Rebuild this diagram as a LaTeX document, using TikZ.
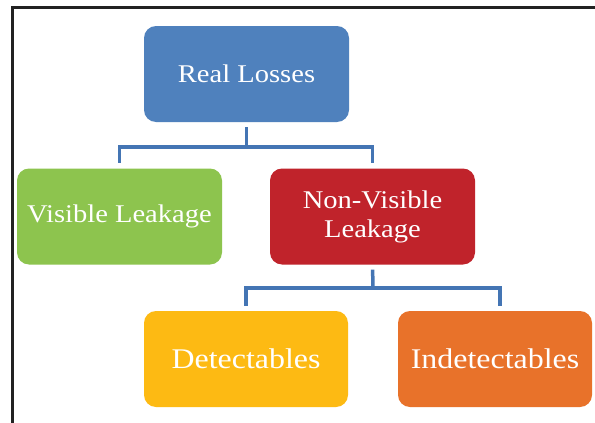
\documentclass[tikz,border=0pt]{standalone}
\usepackage{fontspec}
\setmainfont{Liberation Serif}[FakeStretch=1.12]
\begin{document}
\begin{tikzpicture}[x=1pt,y=-1pt,
  box/.style={rounded corners=12pt, minimum width=205pt, minimum height=96pt,
    inner sep=0pt, text=white, align=center, font=\fontsize{25.5}{29}\selectfont},
  bigbox/.style={box, font=\fontsize{28.5}{32}\selectfont},
  link/.style={draw=linkblue, line width=3.5pt},
  drop/.style={link, shorten <=-1.75pt, shorten >=5pt},
  stem/.style={link, shorten <=5pt, shorten >=-1.75pt}]
  \definecolor{linkblue}{HTML}{4475B4}
  \definecolor{rootblue}{HTML}{4F81BD}
  \definecolor{leafgreen}{HTML}{8DC44E}
  \definecolor{leakred}{HTML}{C0232B}
  \definecolor{detyellow}{HTML}{FDBA13}
  \definecolor{indorange}{HTML}{E8722A}
  \definecolor{framegray}{HTML}{222222}

  % page area
  \useasboundingbox (0,0) rectangle (595,423);
  \fill[white] (0,0) rectangle (595,423);
  \draw[framegray, line width=3pt] (12,423) -- (12,7) -- (595,7);

  % junction points of the two tree levels
  \coordinate (bus1) at (247,147);
  \coordinate (bus2) at (373,288);

  % boxes
  \node[box, fill=rootblue]  (rl) at (246.5,74)  {Real Losses};
  \node[box, fill=leafgreen] (vl) at (119.5,216.5) {Visible Leakage};
  \node[box, fill=leakred]   (nv) at (372.5,216.5) {Non-Visible\\Leakage};
  \node[bigbox, fill=detyellow, minimum width=204pt] (dt) at (246,359) {Detectables};
  \node[bigbox, fill=indorange, minimum width=194pt] (in) at (495,359) {Indetectables};

  % first level connectors
  \draw[stem] (rl.south) -- (rl.south |- bus1);
  \draw[link, line cap=rect] (vl.north |- bus1) -- (nv.north |- bus1);
  \draw[drop] (vl.north |- bus1) -- (vl.north);
  \draw[drop] (nv.north |- bus1) -- (nv.north);

  % second level connectors
  \draw[stem] (nv.south) -- (bus2);
  \draw[link, line cap=rect] (dt.north |- bus2) -- ([xshift=5pt]in.north |- bus2);
  \draw[drop] (dt.north |- bus2) -- (dt.north);
  \draw[drop] ([xshift=5pt]in.north |- bus2) -- ([xshift=5pt]in.north);
\end{tikzpicture}
\end{document}
